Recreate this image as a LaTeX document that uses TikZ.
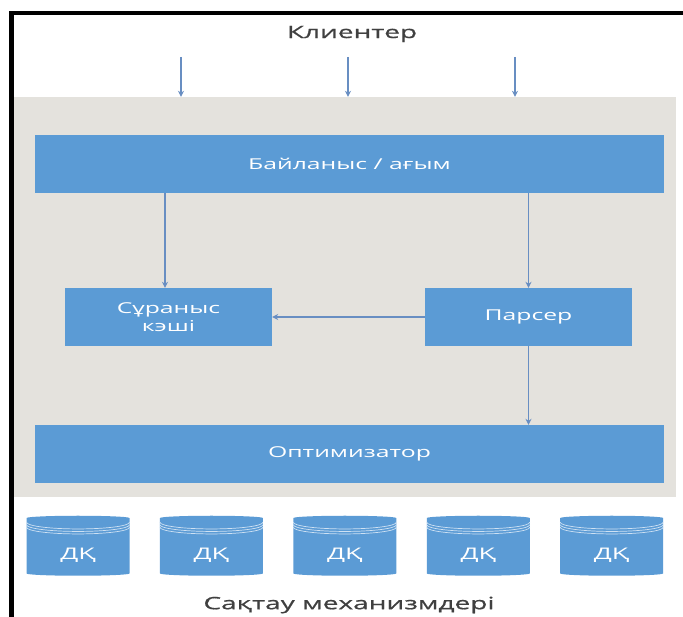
\documentclass[tikz,border=0pt]{standalone}
\usepackage{fontspec}
\setmainfont{Open Sans}[FakeStretch=1.65]
\newfontfamily\lblfont{Open Sans}[FakeStretch=1.65,FakeBold=0.8]
\usepackage{xcolor}
\definecolor{bblue}{RGB}{91,155,213}
\definecolor{agray}{RGB}{228,226,221}
\definecolor{arrc}{RGB}{104,142,194}
\definecolor{tgray}{RGB}{64,64,64}
\usepackage{tikz}
\usetikzlibrary{arrows.meta,shapes.geometric,positioning,calc}

\begin{document}
\begin{tikzpicture}[
  x=1pt,y=1pt,
  wbox/.style={rectangle,fill=bblue,minimum width=629pt,minimum height=58pt,inner sep=0pt,text=white,font=\fontsize{15}{16}\selectfont},
  mbox/.style={rectangle,fill=bblue,minimum width=207pt,minimum height=58pt,inner sep=0pt,text=white,align=center,font=\fontsize{15}{18}\selectfont},
  dbcyl/.style={cylinder,shape border rotate=90,aspect=0.13,fill=bblue,minimum width=103pt,minimum height=60pt,inner sep=0pt,text=white,font=\fontsize{16}{16}\selectfont},
  lbl/.style={text=tgray,font=\lblfont\fontsize{17}{20}\selectfont},
  arr/.style={->,>={Stealth[length=6pt,width=6pt]},line width=1.3pt,arrc}
]
  \useasboundingbox (0,0) rectangle (683,-617);
  \node[fill=agray,minimum width=662pt,minimum height=400pt,inner sep=0pt] (srv) at (345,-297) {};
  \draw[line width=4.5pt] (11.5,-617) -- (11.5,-13) -- (683,-13);

  \node[lbl] (cli) at (352,-34) {Клиентер};
  \node[wbox] (conn) at (349.5,-164) {Байланыс / ағым};
  \node[mbox] (cache) at (168.5,-317) {Сұраныс\\кэші};
  \node[mbox] (pars) at (528.5,-317) {Парсер};
  \node[wbox] (opt) at (349.5,-454) {Оптимизатор};

  \node[dbcyl] (d1) at (78,-547) {\raisebox{-13pt}[0pt][0pt]{ДҚ}};
  \node[dbcyl,right=30pt of d1] (d2) {\raisebox{-13pt}[0pt][0pt]{ДҚ}};
  \node[dbcyl,right=30pt of d2] (d3) {\raisebox{-13pt}[0pt][0pt]{ДҚ}};
  \node[dbcyl,right=30pt of d3] (d4) {\raisebox{-13pt}[0pt][0pt]{ДҚ}};
  \node[dbcyl,right=30pt of d4] (d5) {\raisebox{-13pt}[0pt][0pt]{ДҚ}};
  \foreach \d in {d1,d2,d3,d4,d5}{
    \draw[white!70!bblue,line width=0.7pt] ($(\d.top)+(-51.5,-6.7)$) arc[start angle=180,end angle=360,x radius=51.5pt,y radius=6.7pt];
    \draw[white!70!bblue,line width=0.7pt] ($(\d.top)+(-51.5,-9.2)$) arc[start angle=180,end angle=360,x radius=51.5pt,y radius=6.7pt];
    \draw[white!70!bblue,line width=0.7pt] ($(\d.top)+(-51.5,-11.7)$) arc[start angle=180,end angle=360,x radius=51.5pt,y radius=6.7pt];
  }
  \node[lbl] (stor) at (349,-605) {Сақтау механизмдері};

  \coordinate (c1) at (181,-57);
  \coordinate (c2) at (348,-57);
  \coordinate (c3) at (515,-57);
  \draw[arr] (c1) -- (c1 |- srv.north);
  \draw[arr] (c2) -- (c2 |- srv.north);
  \draw[arr] (c3) -- (c3 |- srv.north);

  \draw[arr] (conn.south -| 165,0) -- (cache.north -| 165,0);
  \draw[arr] (conn.south -| pars) -- (pars.north);
  \draw[arr] (pars.west) -- (cache.east);
  \draw[arr] (pars.south) -- (opt.north -| pars);
\end{tikzpicture}
\end{document}
